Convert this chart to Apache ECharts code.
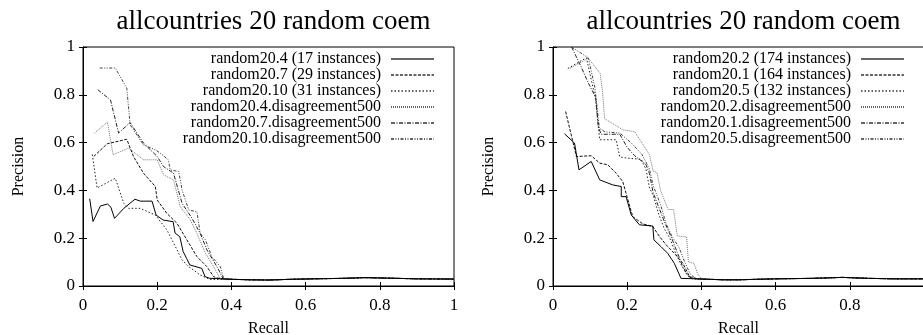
<!DOCTYPE html>
<html><head><meta charset="utf-8">
<script src="https://cdn.jsdelivr.net/npm/echarts@6/dist/echarts.min.js"></script>
<style>html,body{margin:0;padding:0;background:#fff;}#c{width:923px;height:335px;}</style>
</head><body><div id="c"></div>
<script>
const titleText = 'allcountries 20 random coem';
const xName = 'Recall';
const yName = 'Precision';
const xTicks = [0, 0.2, 0.4, 0.6, 0.8, 1];
const yTicks = [0, 0.2, 0.4, 0.6, 0.8, 1];

const leftNames = ['random20.4 (17 instances)', 'random20.7 (29 instances)', 'random20.10 (31 instances)',
  'random20.4.disagreement500', 'random20.7.disagreement500', 'random20.10.disagreement500'];
const rightNames = ['random20.2 (174 instances)', 'random20.1 (164 instances)', 'random20.5 (132 instances)',
  'random20.2.disagreement500', 'random20.1.disagreement500', 'random20.5.disagreement500'];

// tails (recall > ~0.38)
const tailLeft = [[0.4,0.028],[0.45,0.026],[0.5,0.025],[0.56,0.028],[0.62,0.03],[0.7,0.032],[0.76,0.035],[0.82,0.033],[0.9,0.03],[1.0,0.029]];
const tailRight = [[0.42,0.028],[0.46,0.026],[0.5,0.026],[0.6,0.03],[0.7,0.032],[0.78,0.036],[0.85,0.032],[0.92,0.03],[1.0,0.03]];

// left chart
const L_r4 = [[0.018,0.365],[0.027,0.27],[0.047,0.335],[0.066,0.343],[0.075,0.33],[0.085,0.283],[0.11,0.325],[0.14,0.363],[0.155,0.355],[0.186,0.355],[0.197,0.297],[0.216,0.276],[0.243,0.269],[0.248,0.222],[0.261,0.206],[0.27,0.144],[0.279,0.116],[0.288,0.088],[0.32,0.074],[0.329,0.039],[0.342,0.032],[0.38,0.03]];
const L_r7 = [[0.029,0.542],[0.065,0.595],[0.118,0.614],[0.136,0.542],[0.163,0.472],[0.195,0.416],[0.2,0.36],[0.226,0.304],[0.253,0.263],[0.28,0.193],[0.307,0.123],[0.334,0.081],[0.352,0.039],[0.37,0.03]];
const L_r10 = [[0.025,0.55],[0.038,0.41],[0.087,0.451],[0.11,0.346],[0.123,0.325],[0.154,0.325],[0.195,0.297],[0.226,0.235],[0.249,0.165],[0.267,0.109],[0.285,0.081],[0.316,0.046],[0.343,0.027],[0.37,0.028]];
const L_r4d = [[0.031,0.64],[0.066,0.686],[0.081,0.549],[0.123,0.577],[0.163,0.528],[0.2,0.528],[0.217,0.465],[0.244,0.444],[0.262,0.332],[0.289,0.277],[0.307,0.22],[0.33,0.137],[0.352,0.081],[0.37,0.03]];
const L_r7d = [[0.04,0.821],[0.074,0.779],[0.096,0.64],[0.127,0.684],[0.163,0.598],[0.2,0.542],[0.217,0.5],[0.244,0.472],[0.267,0.346],[0.294,0.283],[0.316,0.22],[0.334,0.151],[0.361,0.081],[0.378,0.03]];
const L_r10d = [[0.045,0.912],[0.087,0.912],[0.118,0.828],[0.127,0.675],[0.163,0.59],[0.195,0.57],[0.208,0.556],[0.23,0.528],[0.235,0.486],[0.258,0.479],[0.267,0.402],[0.285,0.318],[0.307,0.311],[0.316,0.22],[0.33,0.193],[0.347,0.123],[0.37,0.081],[0.379,0.032]];

// right chart
const R_r2 = [[0.031,0.637],[0.058,0.598],[0.07,0.486],[0.103,0.521],[0.126,0.444],[0.161,0.423],[0.184,0.416],[0.184,0.374],[0.197,0.374],[0.211,0.297],[0.233,0.256],[0.269,0.251],[0.272,0.193],[0.291,0.165],[0.309,0.137],[0.327,0.095],[0.345,0.032],[0.39,0.03]];
const R_r1 = [[0.034,0.73],[0.063,0.542],[0.103,0.545],[0.126,0.514],[0.148,0.507],[0.17,0.472],[0.188,0.437],[0.202,0.36],[0.215,0.29],[0.242,0.26],[0.269,0.249],[0.287,0.207],[0.305,0.172],[0.327,0.137],[0.35,0.095],[0.368,0.039],[0.39,0.03]];
const R_r5 = [[0.04,0.91],[0.09,0.955],[0.115,0.78],[0.126,0.612],[0.17,0.612],[0.18,0.54],[0.2,0.535],[0.238,0.53],[0.251,0.486],[0.26,0.41],[0.27,0.38],[0.285,0.3],[0.3,0.24],[0.315,0.2],[0.33,0.14],[0.345,0.09],[0.36,0.05],[0.375,0.03]];
const R_r2d = [[0.045,0.91],[0.095,0.953],[0.127,0.89],[0.133,0.82],[0.139,0.7],[0.189,0.653],[0.22,0.646],[0.26,0.55],[0.27,0.48],[0.28,0.475],[0.29,0.4],[0.31,0.32],[0.325,0.32],[0.335,0.21],[0.36,0.205],[0.365,0.1],[0.38,0.095],[0.39,0.05],[0.4,0.03]];
const R_r1d = [[0.05,1.0],[0.075,0.92],[0.095,0.85],[0.115,0.79],[0.122,0.665],[0.13,0.635],[0.18,0.635],[0.2,0.58],[0.22,0.545],[0.25,0.51],[0.26,0.47],[0.27,0.39],[0.285,0.33],[0.3,0.27],[0.32,0.2],[0.335,0.14],[0.35,0.08],[0.365,0.04],[0.38,0.03]];
const R_r5d = [[0.05,1.0],[0.095,0.955],[0.113,0.83],[0.125,0.66],[0.14,0.645],[0.18,0.64],[0.21,0.6],[0.24,0.55],[0.26,0.49],[0.27,0.42],[0.29,0.34],[0.305,0.26],[0.32,0.21],[0.34,0.16],[0.355,0.1],[0.37,0.05],[0.385,0.03]];

const FONT = '"Liberation Serif", "Times New Roman", serif';
const styles = [
  {color:'#000', width:1, type:'solid'},
  {color:'#111', width:1, type:[3,1.5]},
  {color:'#222', width:1, type:[1.5,2]},
  {color:'#777', width:1, type:[1,1]},
  {color:'#222', width:1, type:[4,1.5,1,1.5]},
  {color:'#444', width:1, type:[3,1.5,1,1.5,1,1.5]}
];

const chart = echarts.init(document.getElementById('c'), null, {renderer:'canvas'});

const grids = [
  {left:83, top:47, width:371, height:239, show:true, borderColor:'#000', borderWidth:1, outerBoundsMode:'none', containLabel:false},
  {left:553, top:47, width:371, height:239, show:true, borderColor:'#000', borderWidth:1, outerBoundsMode:'none', containLabel:false}
];

function mkAxis(kind, gi, pos, main, ticks, hideMax) {
  const ax = {
    type:'value', gridIndex:gi, position:pos, min:0, max:1, interval:0.2,
    splitLine:{show:false},
    axisLine:{show:true, lineStyle:{color:'#000', width:1}},
    axisTick:{show:true, inside:true, length:4, lineStyle:{color:'#000'}},
    axisLabel:{show:main, color:'#000', fontSize:17, fontFamily:FONT, margin:kind==='x'?11:8,
      showMaxLabel: hideMax ? false : true,
      formatter: v => String(+v.toFixed(1))}
  };
  if (main) {
    ax.name = kind==='x' ? xName : yName;
    ax.nameLocation = 'middle';
    ax.nameGap = kind==='x' ? 35 : 56;
    ax.nameTextStyle = {color:'#000', fontSize:16, fontFamily:FONT};
  }
  return ax;
}

const xAxes = [mkAxis('x',0,'bottom',true,xTicks,false), mkAxis('x',0,'top',false,xTicks,false),
               mkAxis('x',1,'bottom',true,xTicks,true), mkAxis('x',1,'top',false,xTicks,false)];
const yAxes = [mkAxis('y',0,'left',true,yTicks,false), mkAxis('y',0,'right',false,yTicks,false),
               mkAxis('y',1,'left',true,yTicks,false), mkAxis('y',1,'right',false,yTicks,false)];

const leftData = [L_r4, L_r7, L_r10, L_r4d, L_r7d, L_r10d];
const rightData = [R_r2, R_r1, R_r5, R_r2d, R_r1d, R_r5d];

const series = [];
leftData.forEach((d,i) => series.push({
  type:'line', name:leftNames[i], xAxisIndex:0, yAxisIndex:0, data:d.concat(tailLeft),
  symbol:'none', color:styles[i].color, lineStyle:styles[i], animation:false, z: 10-i
}));
rightData.forEach((d,i) => series.push({
  type:'line', name:rightNames[i], xAxisIndex:2, yAxisIndex:2, data:d.concat(tailRight),
  symbol:'none', color:styles[i].color, lineStyle:styles[i], animation:false, z: 10-i
}));

const legendBase = {orient:'vertical', align:'right', padding:0, itemGap:0, itemWidth:43, itemHeight:16,
  itemStyle:{color:'rgba(0,0,0,0)', borderWidth:0, opacity:0},
  lineStyle:{color:'#666'},
  textStyle:{fontSize:16, fontFamily:FONT, color:'#000', lineHeight:16, padding:[0,5,0,0]},
  selectedMode:false, top:51};

chart.setOption({
  animation:false,
  backgroundColor:'#fff',
  title:[
    {text:titleText, left:268.5, top:3, textAlign:'center', textStyle:{fontSize:27, fontWeight:'normal', fontFamily:FONT, color:'#000'}},
    {text:titleText, left:738.5, top:3, textAlign:'center', textStyle:{fontSize:27, fontWeight:'normal', fontFamily:FONT, color:'#000'}}
  ],
  legend:[
    Object.assign({}, legendBase, {right:923-435, data:leftNames}),
    Object.assign({}, legendBase, {right:923-905, data:rightNames})
  ],
  grid:grids,
  xAxis:xAxes,
  yAxis:yAxes,
  series:series
});
</script></body></html>
